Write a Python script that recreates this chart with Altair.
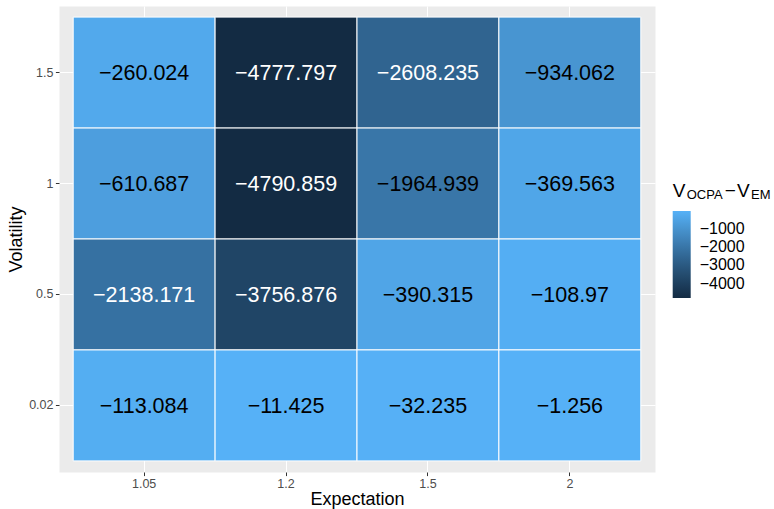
import altair as alt
import pandas as pd

expectation = ["1.05", "1.2", "1.5", "2"]
volatility = ["1.5", "1", "0.5", "0.02"]
vals_15 = [-260.024, -4777.797, -2608.235, -934.062]
vals_1 = [-610.687, -4790.859, -1964.939, -369.563]
vals_05 = [-2138.171, -3756.876, -390.315, -108.97]
vals_002 = [-113.084, -11.425, -32.235, -1.256]
legend_ticks = [-1000, -2000, -3000, -4000]

rows = []
for vol, vals in zip(volatility, [vals_15, vals_1, vals_05, vals_002]):
    for ex, v in zip(expectation, vals):
        rows.append({"Expectation": ex, "Volatility": vol, "value": v,
                     "label": str(v).replace("-", "\u2212")})
df = pd.DataFrame(rows)

FONT = "Liberation Sans"

xenc = alt.X("Expectation:N", sort=expectation,
             scale=alt.Scale(paddingInner=0, paddingOuter=0.1),
             axis=alt.Axis(title="Expectation", titleFontSize=18, titleColor="black",
                           titleFontWeight="normal", titleFont=FONT,
                           titleBaseline="alphabetic", titleY=32,
                           labelFont=FONT, labelFontSize=12.5, labelColor="#4D4D4D",
                           labelAngle=0, labelPadding=2,
                           tickColor="#333333", tickSize=3.6, tickWidth=1,
                           domain=False, grid=True, gridColor="white", gridWidth=1,
                           bandPosition=0.5, zindex=0))
yenc = alt.Y("Volatility:N", sort=volatility,
             scale=alt.Scale(paddingInner=0, paddingOuter=0.1),
             axis=alt.Axis(title="Volatility", titleFontSize=18, titleColor="black",
                           titleFontWeight="normal", titleFont=FONT,
                           titleBaseline="alphabetic", titleX=-37.6, titleY=233,
                           labelFont=FONT, labelFontSize=12.5, labelColor="#4D4D4D",
                           labelPadding=2.4,
                           tickColor="#333333", tickSize=3.6, tickWidth=1,
                           domain=False, grid=True, gridColor="white", gridWidth=1,
                           bandPosition=0.5, zindex=0))

base = alt.Chart(df)

rect = base.mark_rect(stroke="white", strokeWidth=1).encode(
    x=xenc, y=yenc,
    color=alt.Color("value:Q",
                    scale=alt.Scale(range=["#132B43", "#56B1F7"], interpolate="lab",
                                    zero=False, nice=False),
                    legend=alt.Legend(title=None, orient="none", legendX=613.7, legendY=205,
                                      direction="vertical", gradientLength=87,
                                      gradientThickness=18, values=legend_ticks,
                                      format="d",
                                      labelFont=FONT, labelFontSize=16, labelColor="black",
                                      labelOffset=9, labelOverlap=False, padding=0,
                                      gradientStrokeWidth=0)),
)

text = base.mark_text(fontSize=21.5, font=FONT, dy=1.5).encode(
    x=alt.X("Expectation:N", sort=expectation),
    y=alt.Y("Volatility:N", sort=volatility),
    text="label:N",
    color=alt.condition("datum.value < -2000", alt.value("white"), alt.value("black")),
)

def title_part(t, x, y, size):
    return alt.Chart(pd.DataFrame({"t": [t]})).mark_text(
        align="left", baseline="alphabetic", fontSize=size, font=FONT, color="black"
    ).encode(x=alt.value(x), y=alt.value(y), text="t:N")

title_layers = [
    title_part("V", 613.7, 191, 19),
    title_part("OCPA", 627.7, 193, 13),
    title_part("\u2212", 665.7, 191, 19),
    title_part("V", 678, 191, 19),
    title_part("EM", 692, 193, 13),
]

chart = alt.layer(rect, text, *title_layers).properties(
    width=596, height=466,
    autosize=alt.AutoSizeParams(type="none"),
    padding={"left": 59, "top": 6, "right": 119, "bottom": 37},
    background="white",
).configure_view(fill="#EBEBEB", stroke="transparent")

chart.save("out.html", embed_options={"renderer": "svg", "actions": False})
